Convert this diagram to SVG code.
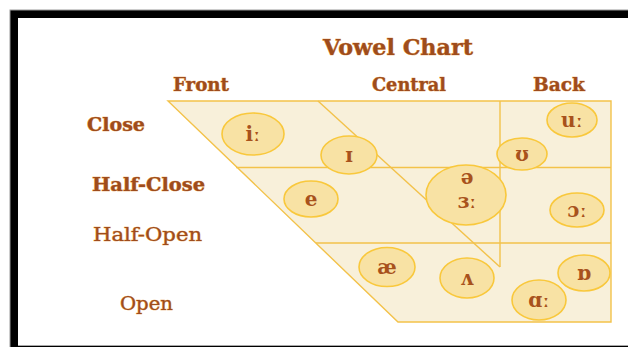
<svg xmlns="http://www.w3.org/2000/svg" width="628" height="347" viewBox="0 0 628 347">
<style>
.lbl{font-family:"DejaVu Serif","Liberation Serif",serif;font-weight:bold;fill:#9E4C1C;stroke:#E6A04C;stroke-width:0.7;paint-order:stroke}
.thin{font-weight:normal}
.grid{fill:none;stroke:#F3C24A;stroke-width:1.4}
.v{fill:#F8E2A4;stroke:#F9C83C;stroke-width:1.6}
.sym{font-family:"DejaVu Serif","Liberation Serif",serif;font-weight:bold;font-size:20px;fill:#A8521C;text-anchor:middle}
</style>
<rect x="0" y="0" width="628" height="347" fill="#fff"/>
<rect x="10" y="10" width="630" height="345" fill="#000" stroke="#9a9a9a" stroke-width="1"/>
<rect x="18" y="18" width="620" height="327" fill="#fff"/>
<line x1="18" y1="345.5" x2="628" y2="345.5" stroke="#a8a8a8" stroke-width="1.2"/>

<g id="title"><text class="lbl" x="323" y="55" font-size="23" textLength="150" lengthAdjust="spacingAndGlyphs">Vowel Chart</text></g>
<g id="col-front"><text class="lbl" x="173" y="91" font-size="19" textLength="56" lengthAdjust="spacingAndGlyphs">Front</text></g>
<g id="col-central"><text class="lbl" x="372" y="91" font-size="19" textLength="74" lengthAdjust="spacingAndGlyphs">Central</text></g>
<g id="col-back"><text class="lbl" x="533" y="91" font-size="19" textLength="52" lengthAdjust="spacingAndGlyphs">Back</text></g>
<g id="row-close"><text class="lbl" x="87" y="131" font-size="18" textLength="58" lengthAdjust="spacingAndGlyphs">Close</text></g>
<g id="row-halfclose"><text class="lbl" x="92" y="191" font-size="18" textLength="113" lengthAdjust="spacingAndGlyphs">Half-Close</text></g>
<g id="row-halfopen"><text class="lbl thin" x="93" y="241" font-size="18" textLength="109" lengthAdjust="spacingAndGlyphs">Half-Open</text></g>
<g id="row-open"><text class="lbl thin" x="120" y="310" font-size="18" textLength="53" lengthAdjust="spacingAndGlyphs">Open</text></g>

<g id="chart">
<polygon points="168,101 611,101 611,322 398,322" fill="#F8F0DA" stroke="#F3C24A" stroke-width="1.4"/>
</g>
<g id="connectors">
<line class="grid" x1="236" y1="167.5" x2="611" y2="167.5"/>
<line class="grid" x1="316" y1="243" x2="611" y2="243"/>
<line class="grid" x1="500" y1="101" x2="500" y2="267"/>
<line class="grid" x1="318" y1="101" x2="500" y2="267"/>
</g>

<g id="v-i"><ellipse class="v" cx="253" cy="134" rx="31" ry="21"/><text class="sym" x="253" y="141">iː</text></g>
<g id="v-I"><ellipse class="v" cx="349" cy="155" rx="28" ry="19"/><text class="sym" x="349" y="162">ɪ</text></g>
<g id="v-e"><ellipse class="v" cx="311" cy="199" rx="27" ry="18"/><text class="sym" x="311" y="206">e</text></g>
<g id="v-u"><ellipse class="v" cx="572" cy="120" rx="25" ry="17"/><text class="sym" x="572" y="127">uː</text></g>
<g id="v-U"><ellipse class="v" cx="522" cy="154" rx="25" ry="16"/><text class="sym" x="522" y="161">ʊ</text></g>
<g id="v-schwa"><ellipse class="v" cx="466" cy="195" rx="40" ry="30"/><text class="sym" x="467" y="184">ə</text><text class="sym" x="467" y="208">ɜː</text></g>
<g id="v-o"><ellipse class="v" cx="577" cy="210" rx="27" ry="17"/><text class="sym" x="577" y="217">ɔː</text></g>
<g id="v-ae"><ellipse class="v" cx="387" cy="267" rx="28" ry="19.5"/><text class="sym" x="387" y="274">æ</text></g>
<g id="v-v"><ellipse class="v" cx="467" cy="278" rx="27" ry="20"/><text class="sym" x="467" y="285">ʌ</text></g>
<g id="v-D"><ellipse class="v" cx="584" cy="273" rx="26" ry="18"/><text class="sym" x="584" y="280">ɒ</text></g>
<g id="v-a"><ellipse class="v" cx="539" cy="300" rx="27" ry="20"/><text class="sym" x="539" y="307">ɑː</text></g>
</svg>
